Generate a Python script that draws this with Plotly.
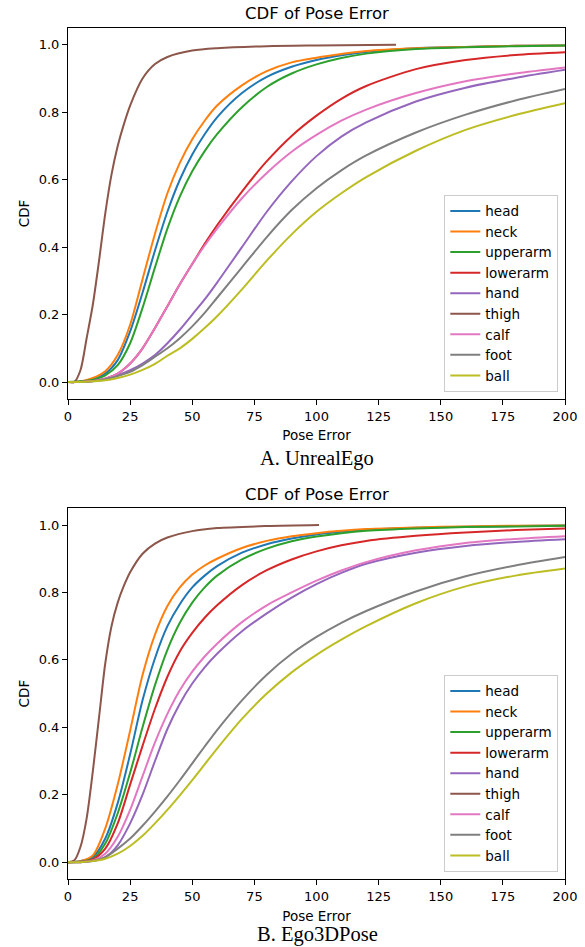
import plotly.graph_objects as go

# ---------------- data ----------------
joints = ["head", "neck", "upperarm", "lowerarm", "hand", "thigh", "calf", "foot", "ball"]
colors = ["#1f77b4", "#ff7f0e", "#2ca02c", "#d62728", "#9467bd",
          "#8c564b", "#e377c2", "#7f7f7f", "#bcbd22"]

pose_error = [0, 5, 10, 15, 20, 25, 30, 35, 40, 45, 50, 55, 60, 70, 80, 90,
              100, 110, 120, 140, 160, 180, 200]

# A. UnrealEgo
ue_thigh_x = [0, 2.5, 5, 7.5, 10, 12.5, 15, 17.5, 20, 22.5, 25, 30, 35, 40, 50, 60, 80, 100, 132]
ue_thigh   = [0, 0, 0.035, 0.13, 0.23, 0.36, 0.50, 0.615, 0.70, 0.765, 0.82, 0.90, 0.943, 0.964, 0.983, 0.99, 0.996, 0.998, 1.0]
ue_head     = [0, 0.002, 0.008, 0.025, 0.065, 0.15, 0.265, 0.39, 0.505, 0.60, 0.675, 0.735, 0.785, 0.857, 0.905, 0.935, 0.955, 0.969, 0.979, 0.99, 0.994, 0.997, 0.998]
ue_neck     = [0, 0.002, 0.012, 0.032, 0.08, 0.17, 0.305, 0.44, 0.56, 0.65, 0.72, 0.775, 0.82, 0.88, 0.922, 0.948, 0.962, 0.973, 0.982, 0.99, 0.994, 0.997, 0.998]
ue_upperarm = [0, 0.002, 0.007, 0.02, 0.05, 0.115, 0.22, 0.34, 0.455, 0.55, 0.625, 0.685, 0.735, 0.815, 0.875, 0.915, 0.942, 0.961, 0.974, 0.988, 0.993, 0.996, 0.998]
ue_lowerarm = [0, 0, 0.003, 0.01, 0.025, 0.055, 0.10, 0.16, 0.225, 0.29, 0.35, 0.41, 0.465, 0.565, 0.655, 0.73, 0.79, 0.84, 0.878, 0.928, 0.955, 0.97, 0.978]
ue_hand     = [0, 0, 0.003, 0.01, 0.02, 0.035, 0.055, 0.08, 0.115, 0.155, 0.20, 0.245, 0.295, 0.40, 0.505, 0.595, 0.67, 0.728, 0.77, 0.832, 0.873, 0.902, 0.926]
ue_calf     = [0, 0, 0.003, 0.01, 0.025, 0.055, 0.10, 0.16, 0.225, 0.29, 0.35, 0.405, 0.455, 0.545, 0.62, 0.683, 0.733, 0.775, 0.808, 0.857, 0.892, 0.915, 0.933]
ue_foot     = [0, 0, 0.002, 0.008, 0.018, 0.03, 0.05, 0.075, 0.10, 0.13, 0.165, 0.205, 0.25, 0.34, 0.43, 0.51, 0.575, 0.628, 0.672, 0.74, 0.793, 0.835, 0.869]
ue_ball     = [0, 0, 0.002, 0.005, 0.012, 0.022, 0.036, 0.054, 0.078, 0.10, 0.128, 0.16, 0.195, 0.275, 0.36, 0.438, 0.505, 0.56, 0.608, 0.686, 0.748, 0.792, 0.827]

# B. Ego3DPose
eg_thigh_x = [0, 2.5, 5, 7.5, 10, 12.5, 15, 17.5, 20, 22.5, 25, 30, 35, 40, 50, 60, 80, 101]
eg_thigh   = [0, 0.005, 0.045, 0.13, 0.27, 0.43, 0.59, 0.70, 0.77, 0.82, 0.86, 0.915, 0.945, 0.963, 0.982, 0.991, 0.997, 1.0]
eg_head     = [0, 0.003, 0.015, 0.07, 0.175, 0.32, 0.48, 0.605, 0.70, 0.765, 0.815, 0.85, 0.878, 0.918, 0.943, 0.96, 0.972, 0.98, 0.986, 0.992, 0.995, 0.997, 0.999]
eg_neck     = [0, 0.003, 0.02, 0.10, 0.23, 0.39, 0.555, 0.675, 0.76, 0.815, 0.853, 0.88, 0.90, 0.932, 0.953, 0.967, 0.976, 0.983, 0.988, 0.993, 0.996, 0.998, 0.999]
eg_upperarm = [0, 0.002, 0.01, 0.055, 0.145, 0.265, 0.40, 0.525, 0.63, 0.71, 0.77, 0.815, 0.85, 0.898, 0.93, 0.952, 0.966, 0.976, 0.983, 0.99, 0.994, 0.996, 0.998]
eg_lowerarm = [0, 0.001, 0.008, 0.04, 0.115, 0.23, 0.345, 0.455, 0.55, 0.625, 0.68, 0.725, 0.762, 0.822, 0.866, 0.898, 0.922, 0.94, 0.953, 0.968, 0.978, 0.985, 0.99]
eg_hand     = [0, 0, 0.003, 0.015, 0.05, 0.115, 0.20, 0.30, 0.395, 0.47, 0.53, 0.578, 0.618, 0.685, 0.738, 0.785, 0.825, 0.858, 0.885, 0.918, 0.938, 0.95, 0.958]
eg_calf     = [0, 0.001, 0.005, 0.025, 0.075, 0.155, 0.255, 0.355, 0.44, 0.51, 0.565, 0.61, 0.648, 0.712, 0.762, 0.80, 0.835, 0.865, 0.89, 0.925, 0.947, 0.959, 0.967]
eg_foot     = [0, 0, 0.004, 0.015, 0.04, 0.07, 0.108, 0.15, 0.195, 0.243, 0.293, 0.343, 0.392, 0.48, 0.556, 0.618, 0.668, 0.71, 0.745, 0.803, 0.848, 0.88, 0.905]
eg_ball     = [0, 0, 0.003, 0.01, 0.025, 0.048, 0.078, 0.115, 0.155, 0.198, 0.243, 0.29, 0.337, 0.425, 0.50, 0.563, 0.615, 0.66, 0.70, 0.768, 0.818, 0.85, 0.871]

xtick_vals = [0, 25, 50, 75, 100, 125, 150, 175, 200]
ytick_vals = [0.0, 0.2, 0.4, 0.6, 0.8, 1.0]
ytick_text = ["0.0", "0.2", "0.4", "0.6", "0.8", "1.0"]

# ---------------- figure ----------------
W, H = 585, 947
ML, MR, MT, MB = 68, 20, 28, 68
WP, HP = W - ML - MR, H - MT - MB
FONT = "DejaVu Sans"

ue = {"head": (pose_error, ue_head), "neck": (pose_error, ue_neck),
      "upperarm": (pose_error, ue_upperarm), "lowerarm": (pose_error, ue_lowerarm),
      "hand": (pose_error, ue_hand), "thigh": (ue_thigh_x, ue_thigh),
      "calf": (pose_error, ue_calf), "foot": (pose_error, ue_foot),
      "ball": (pose_error, ue_ball)}
eg = {"head": (pose_error, eg_head), "neck": (pose_error, eg_neck),
      "upperarm": (pose_error, eg_upperarm), "lowerarm": (pose_error, eg_lowerarm),
      "hand": (pose_error, eg_hand), "thigh": (eg_thigh_x, eg_thigh),
      "calf": (pose_error, eg_calf), "foot": (pose_error, eg_foot),
      "ball": (pose_error, eg_ball)}

fig = go.Figure()
for data, xa, ya, leg in [(ue, "x", "y", "legend"), (eg, "x2", "y2", "legend2")]:
    for name, col in zip(joints, colors):
        xs, ys = data[name]
        fig.add_trace(go.Scatter(
            x=xs, y=ys, mode="lines", name=name,
            line=dict(color=col, width=2, shape="spline", smoothing=0.8),
            xaxis=xa, yaxis=ya, legend=leg, showlegend=True))

# convert window pixel positions to paper coordinates
def px_x(p):
    return (p - ML) / WP

def px_y(p):
    return (H - MB - p) / HP

ydom1 = [px_y(398.9), 1.0]
ydom2 = [0.0, px_y(508.2)]

axis_common = dict(showline=True, mirror=True, linecolor="black", linewidth=1,
                   ticks="outside", ticklen=5, tickwidth=1, tickcolor="black",
                   showgrid=False, zeroline=False, automargin=False,
                   tickfont=dict(family=FONT, size=13, color="black"))

xcommon = dict(axis_common, range=[0, 200], tickmode="array", tickvals=xtick_vals,
               domain=[0, 1],
               title=dict(text="Pose Error", font=dict(family=FONT, size=13.5, color="black"), standoff=8))
ycommon = dict(axis_common, range=[-0.05, 1.05], tickmode="array", tickvals=ytick_vals,
               ticktext=ytick_text,
               title=dict(text="CDF", font=dict(family=FONT, size=13.5, color="black"), standoff=5))

legend_common = dict(xanchor="right", yanchor="bottom", x=px_x(558.3),
                     bgcolor="rgba(255,255,255,0.8)", bordercolor="#cccccc", borderwidth=1,
                     font=dict(family=FONT, size=13.5, color="black"),
                     itemwidth=30, tracegroupgap=0)

fig.update_layout(
    width=W, height=H, margin=dict(l=ML, r=MR, t=MT, b=MB, autoexpand=False),
    paper_bgcolor="white", plot_bgcolor="white",
    font=dict(family=FONT, color="black"),
    xaxis=dict(xcommon, anchor="y"),
    yaxis=dict(ycommon, domain=ydom1, anchor="x"),
    xaxis2=dict(xcommon, anchor="y2"),
    yaxis2=dict(ycommon, domain=ydom2, anchor="x2"),
    legend=dict(legend_common, y=px_y(391.7)),
    legend2=dict(legend_common, y=px_y(871.7)),
    annotations=[
        dict(text="CDF of Pose Error", x=px_x(316.5), y=px_y(14), xref="paper", yref="paper",
             xanchor="center", yanchor="middle", showarrow=False,
             font=dict(family=FONT, size=16.5, color="black")),
        dict(text="CDF of Pose Error", x=px_x(316.5), y=px_y(494), xref="paper", yref="paper",
             xanchor="center", yanchor="middle", showarrow=False,
             font=dict(family=FONT, size=16.5, color="black")),
        dict(text="A. UnrealEgo", x=px_x(317), y=px_y(458), xref="paper", yref="paper",
             xanchor="center", yanchor="middle", showarrow=False,
             font=dict(family="Liberation Serif", size=20.5, color="black")),
        dict(text="B. Ego3DPose", x=px_x(317), y=px_y(934), xref="paper", yref="paper",
             xanchor="center", yanchor="middle", showarrow=False,
             font=dict(family="Liberation Serif", size=20.5, color="black")),
    ],
)

# remove the browser's default 8px body margin so the figure fills the window
fig.write_html("out.html", config={"displayModeBar": False},
               post_script="document.body.style.margin='0';")
